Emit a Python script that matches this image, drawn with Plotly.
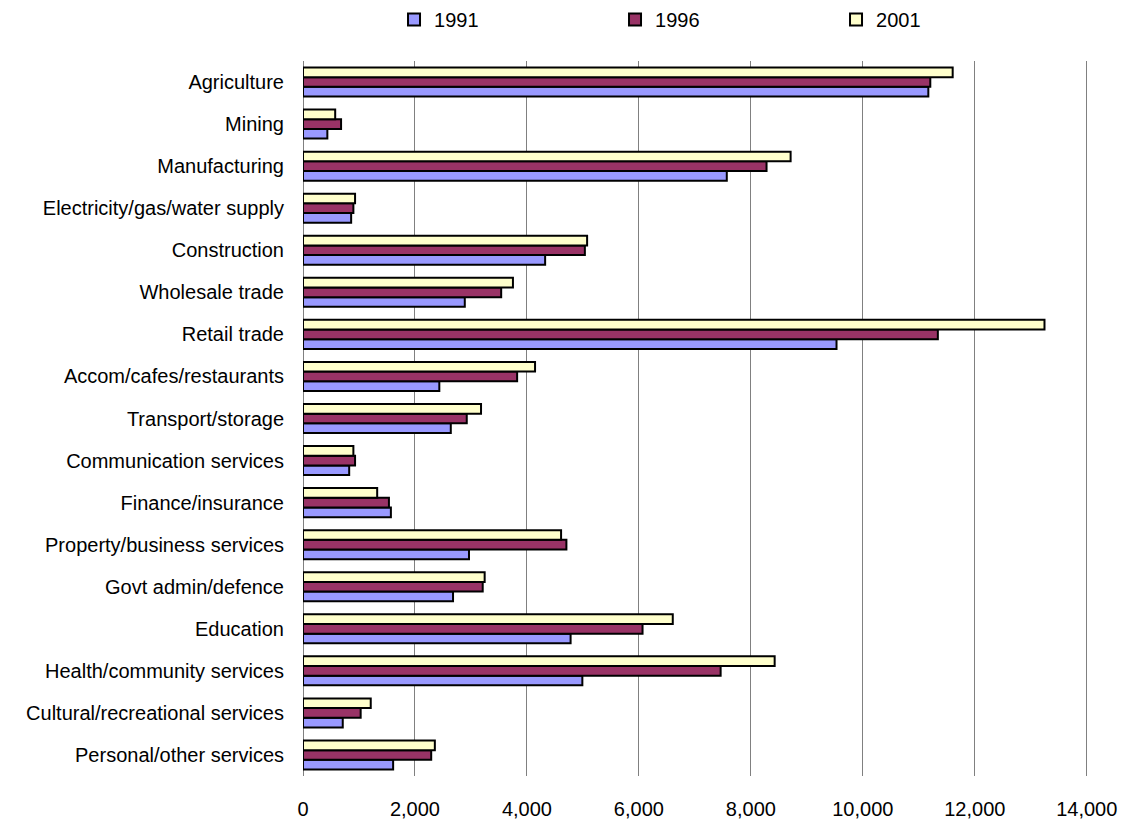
import plotly.graph_objects as go

categories = [
    "Agriculture", "Mining", "Manufacturing", "Electricity/gas/water supply",
    "Construction", "Wholesale trade", "Retail trade", "Accom/cafes/restaurants",
    "Transport/storage", "Communication services", "Finance/insurance",
    "Property/business services", "Govt admin/defence", "Education",
    "Health/community services", "Cultural/recreational services",
    "Personal/other services",
]
v1991 = [11170, 435, 7570, 860, 4325, 2890, 9530, 2435, 2640, 825, 1570,
         2965, 2680, 4780, 4990, 710, 1610]
v1996 = [11205, 680, 8280, 900, 5035, 3540, 11340, 3825, 2925, 930, 1535,
         4705, 3210, 6065, 7460, 1030, 2290]
v2001 = [11605, 575, 8710, 930, 5075, 3750, 13245, 4145, 3180, 900, 1325,
         4610, 3245, 6605, 8425, 1210, 2355]
series_names = ["1991", "1996", "2001"]
series_colors = ["#9999FF", "#993366", "#FFFFCC"]
x_ticks = [0, 2000, 4000, 6000, 8000, 10000, 12000, 14000]

fig = go.Figure()
for name, vals, col in zip(series_names, [v1991, v1996, v2001], series_colors):
    fig.add_trace(go.Bar(
        y=categories, x=vals, name=name, orientation="h",
        marker=dict(color=col, line=dict(color="black", width=2)),
    ))

FONT = "Liberation Sans, Arial, sans-serif"
fig.update_layout(
    barmode="group", bargap=0.31, bargroupgap=0,
    width=1122, height=823,
    margin=dict(l=303, r=33, t=61, b=47, autoexpand=False),
    plot_bgcolor="white", paper_bgcolor="white",
    font=dict(family=FONT, size=20, color="black"),
    legend=dict(orientation="h", x=0.1158, xanchor="left",
                y=1.0, yanchor="top", yref="container",
                entrywidth=176, entrywidthmode="pixels",
                font=dict(size=20), traceorder="normal"),
    showlegend=True,
)
fig.update_xaxes(range=[0, 14040], tickvals=x_ticks, tickformat=",d",
                 showgrid=True, gridcolor="#808080", gridwidth=1,
                 zeroline=True, zerolinecolor="#808080", zerolinewidth=1,
                 showline=False, ticks="", ticklabelstandoff=19,
                 ticklabeloverflow="allow", automargin=False,
                 tickfont=dict(size=20))
fig.update_yaxes(categoryorder="array", categoryarray=categories[::-1],
                 showgrid=False, showline=False, ticks="",
                 ticklabelstandoff=18, automargin=False, tickfont=dict(size=20))

fig.write_html(
    "out.html",
    config={"displayModeBar": False},
    post_script="document.body.style.margin='0';document.body.style.overflow='hidden';",
)
